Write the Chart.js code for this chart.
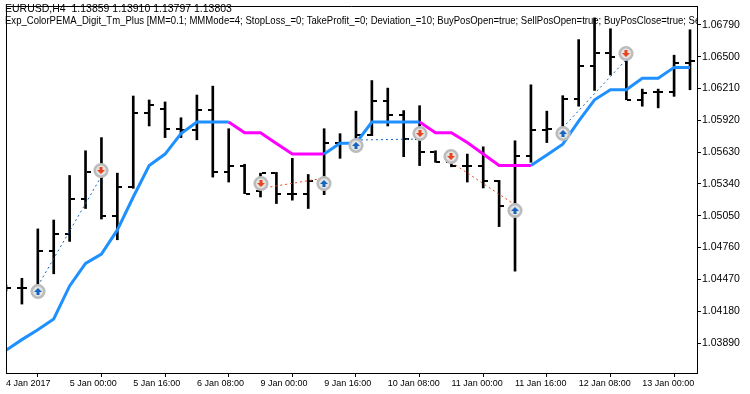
<!DOCTYPE html>
<html>
<head>
<meta charset="utf-8">
<script src="https://cdn.jsdelivr.net/npm/chart.js@4.4.1/dist/chart.umd.min.js"></script>
<style>
  html, body { margin: 0; padding: 0; background: #fff; }
  #wrap { width: 750px; height: 394px; }
</style>
</head>
<body>
<div id="wrap"><canvas id="chart" width="750" height="394"></canvas></div>
<script>
// H4 bars, EURUSD, 4 Jan 2017 08:00 .. 13 Jan 2017 04:00
const opens  = [1.04392, 1.04392, 1.04383, 1.04726, 1.04882, 1.05206, 1.05447, 1.05050, 1.05312, 1.05988,
                1.06024, 1.05843, 1.05832, 1.06012, 1.05447, 1.05507, 1.05276, 1.05438, 1.05251, 1.05251,
                1.05375, 1.05711, 1.05717, 1.05783, 1.06098, 1.05972, 1.05753, 1.05627, 1.05543, 1.05501,
                1.05501, 1.05363, 1.05140, 1.05591, 1.05828, 1.05843, 1.06114, 1.06418, 1.06535, 1.06499,
                1.06107, 1.06174, 1.06174, 1.06445];
const highs  = [1.04419, 1.04480, 1.04930, 1.05011, 1.05417, 1.05642, 1.05762, 1.05438, 1.06141, 1.06105,
                1.06087, 1.05943, 1.06150, 1.06231, 1.05843, 1.05519, 1.05438, 1.05445, 1.05573, 1.05426,
                1.05843, 1.05798, 1.06003, 1.06282, 1.06213, 1.06008, 1.06053, 1.05642, 1.05645, 1.05612,
                1.05678, 1.05372, 1.05733, 1.06243, 1.06003, 1.06144, 1.06655, 1.06853, 1.06754, 1.06529,
                1.06204, 1.06204, 1.06513, 1.06745];
const lows   = [1.04365, 1.04245, 1.04356, 1.04521, 1.04816, 1.05116, 1.05020, 1.04831, 1.05300, 1.05868,
                1.05762, 1.05762, 1.05742, 1.05402, 1.05357, 1.05251, 1.05221, 1.05161, 1.05192, 1.05116,
                1.05242, 1.05573, 1.05690, 1.05780, 1.05868, 1.05588, 1.05507, 1.05537, 1.05496, 1.05357,
                1.05303, 1.04951, 1.04545, 1.05537, 1.05717, 1.05762, 1.06048, 1.06192, 1.06333, 1.06107,
                1.06048, 1.06033, 1.06138, 1.06198];
const closes = [1.04395, 1.04392, 1.04726, 1.04882, 1.05206, 1.05447, 1.05050, 1.05312, 1.05988, 1.06062,
                1.05843, 1.05832, 1.06012, 1.05447, 1.05507, 1.05251, 1.05438, 1.05251, 1.05251, 1.05366,
                1.05711, 1.05711, 1.05783, 1.06098, 1.05972, 1.05753, 1.05627, 1.05543, 1.05501, 1.05501,
                1.05363, 1.05140, 1.05591, 1.05828, 1.05843, 1.06114, 1.06418, 1.06535, 1.06499, 1.06107,
                1.06168, 1.06174, 1.06445, 1.06456];

// ColorPEMA_Digit line and its trend (1 = up, blue; 0 = down, magenta)
const pema   = [1.03824, 1.03921, 1.04011, 1.04110, 1.04410, 1.04615, 1.04701, 1.04921, 1.05221, 1.05507,
                1.05612, 1.05798, 1.05904, 1.05904, 1.05904, 1.05807, 1.05807, 1.05708, 1.05612, 1.05612,
                1.05612, 1.05711, 1.05711, 1.05904, 1.05904, 1.05904, 1.05904, 1.05807, 1.05807, 1.05717,
                1.05612, 1.05507, 1.05507, 1.05507, 1.05603, 1.05702, 1.05913, 1.06107, 1.06198, 1.06198,
                1.06303, 1.06303, 1.06402, 1.06402];
const pemaTrend = [1,1,1,1,1,1,1,1,1,1, 1,1,1,1,1,0,0,0,0,0, 0,1,1,1,1,1,1,0,0,0,
                   0,0,0,0,1,1,1,1,1,1, 1,1,1,1];

// trades: side, open bar / price, close bar / price
const tradeSide       = ['buy', 'sell', 'buy', 'sell', 'buy'];
const tradeOpenBar    = [2, 16, 22, 28, 35];
const tradeOpenPrice  = [1.04410, 1.05298, 1.05740, 1.05537, 1.05852];
const tradeCloseBar   = [6, 20, 26, 32, 39];
const tradeClosePrice = [1.05411, 1.05393, 1.05749, 1.05149, 1.06474];

// axes
const priceTicks = [1.03890, 1.04180, 1.04470, 1.04760, 1.05050, 1.05340, 1.05630, 1.05920, 1.06210, 1.06500, 1.06790];
const timeTickBars = [0, 4, 8, 12, 16, 20, 24, 28, 32, 36, 40];
const timeLabels = ['4 Jan 2017', '5 Jan 00:00', '5 Jan 16:00', '6 Jan 08:00', '9 Jan 00:00', '9 Jan 16:00',
                    '10 Jan 08:00', '11 Jan 00:00', '11 Jan 16:00', '12 Jan 08:00', '13 Jan 00:00'];
const headerLine1 = 'EURUSD,H4  1.13859 1.13910 1.13797 1.13803';
const headerLine2 = 'Exp_ColorPEMA_Digit_Tm_Plus [MM=0.1; MMMode=4; StopLoss_=0; TakeProfit_=0; Deviation_=10; BuyPosOpen=true; SellPosOpen=true; BuyPosClose=true; SellPosClose=true]';

const FONT = '"Liberation Sans", Arial, sans-serif';
const BLUE = '#1e90ff';
const MAGENTA = '#ff00ff';
const DEAL_BLUE = '#1565c0';
const DEAL_RED = '#e8451e';

// small canvases used as point styles
function tickIcon(side) {
  const c = document.createElement('canvas');
  c.width = 10; c.height = 2;
  const g = c.getContext('2d');
  g.fillStyle = '#000';
  if (side === 'open') g.fillRect(0, 0, 4, 2); else g.fillRect(6, 0, 4, 2);
  return c;
}

function dealIcon(kind) {
  const c = document.createElement('canvas');
  c.width = 18; c.height = 30;
  const g = c.getContext('2d');
  const cx = 9, cy = kind === 'buy' ? 20.5 : 9.5;
  g.beginPath();
  g.arc(cx, cy, 6.3, 0, Math.PI * 2);
  g.fillStyle = '#e4e4e4';
  g.fill();
  g.lineWidth = 2.6;
  g.strokeStyle = '#bcbcbc';
  g.stroke();
  g.fillStyle = kind === 'buy' ? DEAL_BLUE : DEAL_RED;
  const d = kind === 'buy' ? 1 : -1;
  g.beginPath();
  g.moveTo(cx - 4, cy + d * 0.5);
  g.lineTo(cx, cy - d * 3.5);
  g.lineTo(cx + 4, cy + d * 0.5);
  g.closePath();
  g.fill();
  if (d > 0) g.fillRect(cx - 1.5, cy, 3, 3.5); else g.fillRect(cx - 1.5, cy - 3.5, 3, 3.5);
  return c;
}

const openIcon = tickIcon('open');
const closeIcon = tickIcon('close');
const buyIcon = dealIcon('buy');
const sellIcon = dealIcon('sell');

const idx = opens.map((_, i) => i);

const buyDeals = [], sellDeals = [];
tradeSide.forEach((s, i) => {
  const o = { x: tradeOpenBar[i], y: tradeOpenPrice[i] };
  const c = { x: tradeCloseBar[i], y: tradeClosePrice[i] };
  if (s === 'buy') { buyDeals.push(o); sellDeals.push(c); } else { sellDeals.push(o); buyDeals.push(c); }
});

const tradeLines = tradeSide.map((s, i) => ({
  type: 'line',
  data: [{ x: tradeOpenBar[i], y: tradeOpenPrice[i] }, { x: tradeCloseBar[i], y: tradeClosePrice[i] }],
  borderColor: s === 'buy' ? DEAL_BLUE : DEAL_RED,
  borderWidth: 1,
  borderDash: [2, 3],
  pointRadius: 0,
  order: 1
}));

// draws text squeezed to the width the terminal font gives it
function fitText(ctx, text, x, y, sx) {
  ctx.save();
  ctx.translate(x, y);
  ctx.scale(sx, 1);
  ctx.fillText(text, 0, 0);
  ctx.restore();
}

const frameAndHeader = {
  id: 'frameAndHeader',
  beforeDatasetsDraw(chart) {
    chart.ctx.imageSmoothingEnabled = false;
  },
  afterDraw(chart) {
    const { ctx, chartArea: a } = chart;
    ctx.save();
    ctx.strokeStyle = '#000';
    ctx.lineWidth = 1;
    ctx.beginPath();
    ctx.moveTo(a.left + 0.5, a.bottom);
    ctx.lineTo(a.left + 0.5, a.top + 0.5);
    ctx.lineTo(a.right, a.top + 0.5);
    ctx.stroke();
    // header text is cut at the price scale
    ctx.beginPath();
    ctx.rect(0, 0, a.right, a.bottom);
    ctx.clip();
    ctx.fillStyle = '#000';
    ctx.font = '11px ' + FONT;
    ctx.textBaseline = 'alphabetic';
    fitText(ctx, headerLine1, 5, 12, 0.954);
    fitText(ctx, headerLine2, 5, 24, 0.868);
    ctx.restore();
  }
};

new Chart(document.getElementById('chart'), {
  type: 'line',
  data: {
    datasets: [
      {
        type: 'scatter',
        data: buyDeals,
        pointStyle: buyIcon,
        pointRadius: 5,
        order: 0
      },
      {
        type: 'scatter',
        data: sellDeals,
        pointStyle: sellIcon,
        pointRadius: 5,
        order: 0
      },
      ...tradeLines,
      {
        type: 'line',
        data: idx.map(i => ({ x: i, y: pema[i] })),
        borderWidth: 3,
        borderColor: BLUE,
        pointRadius: 0,
        tension: 0,
        segment: {
          borderColor: c => pemaTrend[c.p1DataIndex] ? BLUE : MAGENTA
        },
        order: 2
      },
      {
        type: 'scatter',
        data: idx.map(i => ({ x: i, y: opens[i] })),
        pointStyle: openIcon,
        pointRadius: 3,
        order: 3
      },
      {
        type: 'scatter',
        data: idx.map(i => ({ x: i, y: closes[i] })),
        pointStyle: closeIcon,
        pointRadius: 3,
        order: 3
      },
      {
        type: 'bar',
        data: idx.map(i => ({ x: i, y: [lows[i], highs[i]] })),
        backgroundColor: '#000',
        borderWidth: 0,
        barThickness: 2,
        order: 4
      }
    ]
  },
  options: {
    responsive: false,
    animation: false,
    devicePixelRatio: 1,
    events: [],
    layout: { padding: { left: 2, top: 2, right: 0, bottom: 0 } },
    plugins: { legend: { display: false }, tooltip: { enabled: false } },
    scales: {
      x: {
        type: 'linear',
        offset: false,
        min: 0,
        max: 43.44,
        afterBuildTicks: s => { s.ticks = timeTickBars.map(v => ({ value: v })); },
        afterFit: s => { s.height = 21; s.paddingLeft = 0; s.paddingRight = 0; },
        ticks: {
          callback: (v, i) => timeLabels[i],
          align: 'start',
          maxRotation: 0,
          autoSkip: false,
          padding: 1,
          color: '#000',
          font: { family: FONT, size: 9 }
        },
        grid: { drawOnChartArea: false, drawTicks: true, tickLength: 4, color: '#000' },
        border: { display: true, color: '#000' }
      },
      y: {
        type: 'linear',
        position: 'right',
        min: 1.036169,
        max: 1.069613,
        beginAtZero: false,
        afterBuildTicks: s => { s.ticks = priceTicks.map(v => ({ value: v })); },
        afterFit: s => { s.width = 53; s.paddingTop = 0; s.paddingBottom = 0; },
        ticks: {
          callback: v => v.toFixed(5),
          padding: 1,
          color: '#000',
          font: { family: FONT, size: 10.5 }
        },
        grid: { drawOnChartArea: false, drawTicks: true, tickLength: 4, color: '#000' },
        border: { display: true, color: '#000' }
      }
    }
  },
  plugins: [frameAndHeader]
});
</script>
</body>
</html>
